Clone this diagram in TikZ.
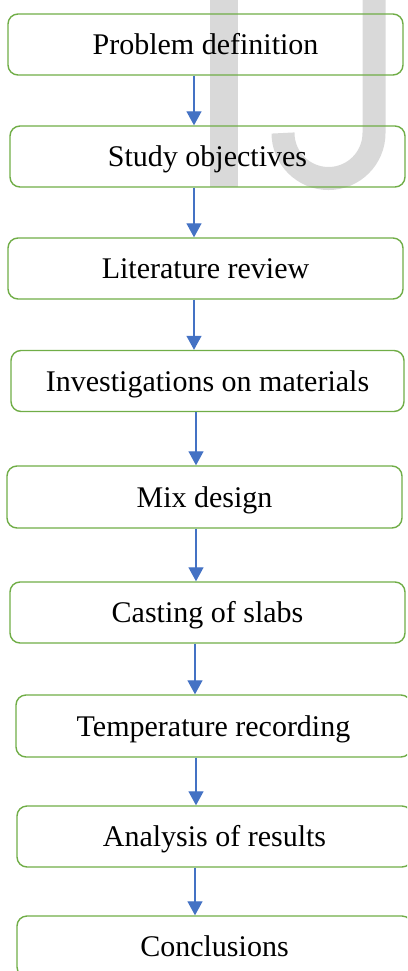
\documentclass[tikz,border=0pt]{standalone}
\usepackage{fontspec}
\setmainfont{Liberation Serif}
\usetikzlibrary{arrows.meta}

\definecolor{boxgreen}{RGB}{112,173,71}
\definecolor{arrowblue}{RGB}{68,114,196}
\definecolor{markgray}{RGB}{217,217,217}

\begin{document}
\begin{tikzpicture}[x=1pt, y=-1pt,
        stepbox/.style={rectangle, rounded corners=10pt, draw=boxgreen, line width=1.4pt,
            minimum width=395pt, minimum height=61pt, inner sep=0pt,
            text height=26pt, text depth=6pt, font=\fontsize{30}{34}\selectfont},
        flow/.style={draw=arrowblue, line width=1.3pt, -{Triangle[length=14pt, width=15pt]}}]

    \useasboundingbox (0,0) rectangle (407,971);
    \clip (0,0) rectangle (407,971);

    % watermark behind the boxes
    \fill[markgray] (210,0) rectangle (238,187);
    \draw[markgray, line width=23pt] (374,0) -- (374,133) arc[start angle=0, end angle=180, radius=45.5];

    \node[stepbox] (problem) at (205.5,44.5) {Problem definition};
    \node[stepbox] (objectives) at (207.5,156.5) {Study objectives};
    \node[stepbox] (literature) at (205.5,268.5) {Literature review};
    \node[stepbox, minimum width=393pt] (materials) at (207.5,381) {Investigations on materials};
    \node[stepbox, minimum height=62pt] (mix) at (204.5,497) {Mix design};
    \node[stepbox] (casting) at (207.5,612.5) {Casting of slabs};
    \node[stepbox, minimum height=62pt] (temperature) at (213.5,726) {Temperature recording};
    \node[stepbox] (analysis) at (214.5,836.5) {Analysis of results};
    \node[stepbox] (conclusions) at (214.5,946.5) {Conclusions};

    \foreach \a/\b/\x in {problem/objectives/194, objectives/literature/194,
            literature/materials/194, materials/mix/196, mix/casting/196,
            casting/temperature/195, temperature/analysis/196, analysis/conclusions/195}
        \draw[flow] (\a.south -| \x,0) -- (\b.north -| \x,0);

\end{tikzpicture}
\end{document}
